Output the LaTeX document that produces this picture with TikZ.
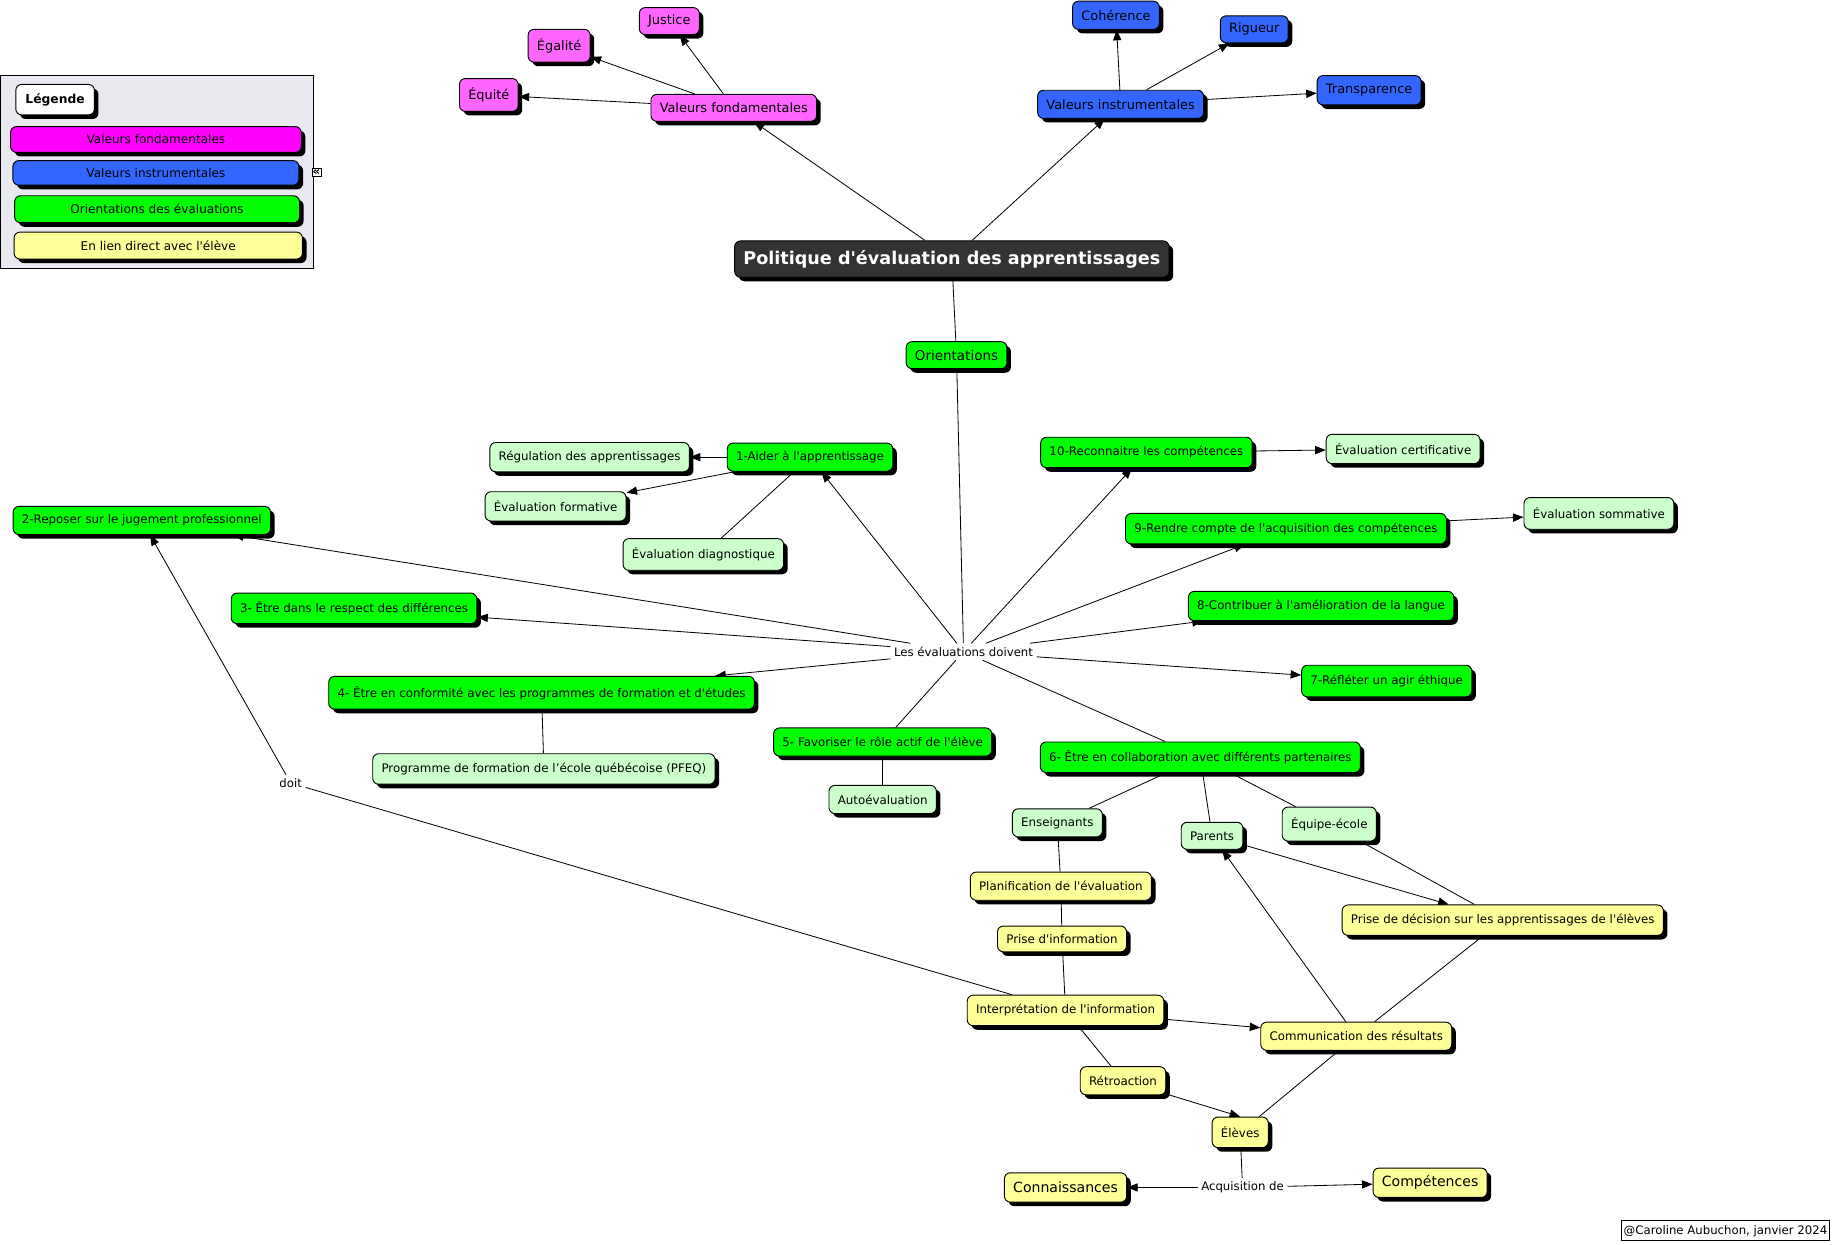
\documentclass[tikz,border=0pt]{standalone}
\usepackage{fontspec}
\setmainfont{DejaVu Sans}[Ligatures=TeXOff]
\usepackage{tikz}
\usetikzlibrary{arrows.meta,shadows,backgrounds}
\definecolor{vfcol}{HTML}{FF66FF}
\definecolor{vfleg}{HTML}{FF00FF}
\definecolor{vicol}{HTML}{3366FF}
\definecolor{orcol}{HTML}{00FF00}
\definecolor{subcol}{HTML}{CCFFCC}
\definecolor{elcol}{HTML}{FFFF99}
\definecolor{maincol}{HTML}{333333}
\definecolor{legbg}{HTML}{E9EAF0}
\tikzset{box/.style={draw,rounded corners=5pt,line width=0.8pt,minimum height=24pt,inner xsep=7.5pt,
    font=\fontsize{10.1}{12}\selectfont,
    drop shadow={shadow xshift=3.5pt,shadow yshift=-3.5pt,opacity=1,fill=black}},
    vf/.style={box,fill=vfcol,font=\fontsize{11}{13}\selectfont},
    vi/.style={box,fill=vicol,font=\fontsize{11}{13}\selectfont},
    orient/.style={box,fill=orcol},
    sub/.style={box,fill=subcol},
    eleve/.style={box,fill=elcol},
    leg/.style={box,minimum height=22pt,font=\fontsize{10.3}{12}\selectfont},
    lbl/.style={font=\fontsize{10}{12}\selectfont,inner sep=3pt},
    link/.style={line width=0.7pt},
    arr/.style={link,-{Triangle[length=9pt,width=7pt]}}}

\begin{document}
\begin{tikzpicture}[x=1pt,y=-1pt]
\useasboundingbox (0,0) rectangle (1568,1062);

\node[draw,line width=0.8pt,fill=legbg,minimum width=267pt,minimum height=165pt] (legend) at (133.5,146.5) {};
\node[box,fill=white,font=\bfseries\fontsize{10.5}{12}\selectfont,minimum width=67pt,minimum height=26pt] (legtitle) at (47,85) {Légende};
\node[leg,fill=vfleg,minimum width=248pt] (legvf) at (133,119) {Valeurs fondamentales};
\node[leg,fill=vicol,minimum width=244pt,minimum height=21pt] (legvi) at (133,147.5) {Valeurs instrumentales};
\node[leg,fill=orcol,minimum width=243pt,minimum height=23pt] (legor) at (134,178.5) {Orientations des évaluations};
\node[leg,fill=elcol,minimum width=246pt,minimum height=23pt] (legel) at (135,209.5) {En lien direct avec l'élève};
\node[draw,fill=white,line width=0.6pt,inner xsep=0.6pt,inner ysep=1pt,font=\bfseries\fontsize{10}{10}\selectfont] (toggle) at (270,147) {«};

\node[vf,minimum height=23pt] (justice) at (571,18) {Justice};
\node[vf,minimum height=28pt] (egalite) at (477,39) {Égalité};
\node[vf,minimum height=28pt] (equite) at (417,81) {Équité};
\node[vf,minimum height=23pt] (valfond) at (626,92) {Valeurs fondamentales};
\node[vi] (valinst) at (956,89) {Valeurs instrumentales};
\node[vi] (coherence) at (952,13) {Cohérence};
\node[vi,minimum height=23pt] (rigueur) at (1070,25) {Rigueur};
\node[vi,minimum height=25pt] (transparence) at (1168,77) {Transparence};

\node[box,fill=maincol,text=white,font=\bfseries\fontsize{15}{17}\selectfont,minimum height=31pt] (politique) at (812,221) {Politique d'évaluation des apprentissages};
\node[orient,font=\fontsize{11.5}{14}\selectfont,minimum height=23pt] (orientations) at (816,303) {Orientations};
\node[lbl] (doivent) at (822,556) {Les évaluations doivent};

\node[orient] (aider) at (691,390) {1-Aider à l'apprentissage};
\node[orient] (reposer) at (121,444) {2-Reposer sur le jugement professionnel};
\node[orient,minimum height=26pt] (respect) at (302,519) {3- Être dans le respect des différences};
\node[orient,minimum height=28pt] (conformite) at (462,591) {4- Être en conformité avec les programmes de formation et d'études};
\node[orient] (favoriser) at (753,633) {5- Favoriser le rôle actif de l'élève};
\node[orient,minimum height=26pt] (collab) at (1024,646) {6- Être en collaboration avec différents partenaires};
\node[orient,minimum height=27pt] (ethique) at (1183,581) {7-Réfléter un agir éthique};
\node[orient,minimum height=25pt] (langue) at (1127,517) {8-Contribuer à l'amélioration de la langue};
\node[orient,minimum height=26pt] (rendre) at (1097,451) {9-Rendre compte de l'acquisition des compétences};
\node[orient,minimum height=26pt] (reconnaitre) at (978,386) {10-Reconnaitre les compétences};

\node[sub,minimum height=25pt] (regulation) at (503,390) {Régulation des apprentissages};
\node[sub,minimum height=25pt] (formative) at (474,432) {Évaluation formative};
\node[sub,minimum height=27pt] (diagnostique) at (600,473) {Évaluation diagnostique};
\node[sub,minimum height=26pt] (pfeq) at (464,656) {Programme de formation de l’école québécoise (PFEQ)};
\node[sub] (autoeval) at (753,682) {Autoévaluation};
\node[sub,minimum height=25pt] (certificative) at (1197,383) {Évaluation certificative};
\node[sub,minimum height=27pt] (sommative) at (1364,438) {Évaluation sommative};
\node[sub] (enseignants) at (902,702) {Enseignants};
\node[sub,minimum height=23pt] (parents) at (1034,713) {Parents};
\node[sub,minimum height=29pt] (equipe) at (1134,703) {Équipe-école};

\node[eleve] (planif) at (905,756) {Planification de l'évaluation};
\node[eleve,minimum height=22pt] (prise) at (906,801) {Prise d'information};
\node[eleve,minimum height=26pt] (interp) at (909,862) {Interprétation de l'information};
\node[eleve] (retro) at (958,922) {Rétroaction};
\node[eleve,minimum height=26pt] (eleves) at (1058,966) {Élèves};
\node[eleve,font=\fontsize{12}{14}\selectfont,minimum height=25pt] (connaissances) at (909,1013) {Connaissances};
\node[eleve,font=\fontsize{12}{14}\selectfont,minimum height=25pt] (competences) at (1220,1009) {Compétences};
\node[eleve] (communication) at (1157,884) {Communication des résultats};
\node[eleve,minimum height=26pt] (decision) at (1282,785) {Prise de décision sur les apprentissages de l'élèves};

\node[lbl,fill=white] (doit) at (248,668) {doit};
\node[lbl,fill=white] (acquisition) at (1060,1013) {Acquisition de};
\node[draw,line width=0.8pt,fill=white,font=\fontsize{10}{12}\selectfont,inner sep=2pt,minimum height=17pt] (signature) at (1472,1050) {@Caroline Aubuchon, janvier 2024};

\begin{scope}[on background layer]
\draw[arr] (valfond) -- (justice);
\draw[arr] (valfond) -- (egalite);
\draw[arr] (valfond) -- (equite);
\draw[arr] (politique) -- (valfond);
\draw[arr] (politique) -- (valinst);
\draw[arr] (valinst) -- (coherence);
\draw[arr] (valinst) -- (rigueur);
\draw[arr] (valinst) -- (transparence);
\draw[link] (politique) -- (orientations);
\draw[link] (orientations) -- (doivent);

\draw[arr] (doivent) -- (aider);
\draw[arr] (doivent) -- (reposer);
\draw[arr] (doivent) -- (respect);
\draw[arr] (doivent) -- (conformite);
\draw[link] (doivent) -- (favoriser);
\draw[link] (doivent) -- (collab);
\draw[arr] (doivent) -- (ethique);
\draw[arr] (doivent) -- (langue);
\draw[arr] (doivent) -- (rendre);
\draw[arr] (doivent) -- (reconnaitre);

\draw[arr] (aider) -- (regulation);
\draw[arr] (aider) -- (formative);
\draw[link] (aider) -- (diagnostique);
\draw[link] (conformite) -- (pfeq);
\draw[link] (favoriser) -- (autoeval);
\draw[arr] (reconnaitre) -- (certificative);
\draw[arr] (rendre) -- (sommative);

\draw[link] (collab) -- (enseignants);
\draw[link] (collab) -- (parents);
\draw[link] (collab) -- (equipe);
\draw[link] (enseignants) -- (planif);
\draw[link] (planif) -- (prise);
\draw[link] (prise) -- (interp);
\draw[link] (interp) -- (retro);
\draw[arr] (interp) -- (communication);
\draw[arr] (retro) -- (eleves.north);
\draw[link] (communication) -- (eleves);
\draw[arr] (communication) -- (parents);
\draw[link] (communication) -- (decision);
\draw[arr] (parents) -- (decision);
\draw[link] (equipe) -- (decision);

\draw[link] (interp) -- (doit);
\draw[arr] (doit) -- (reposer);
\draw[link] (eleves) -- (acquisition);
\draw[arr] (acquisition) -- (connaissances);
\draw[arr] (acquisition) -- (competences);
\end{scope}
\end{tikzpicture}
\end{document}
